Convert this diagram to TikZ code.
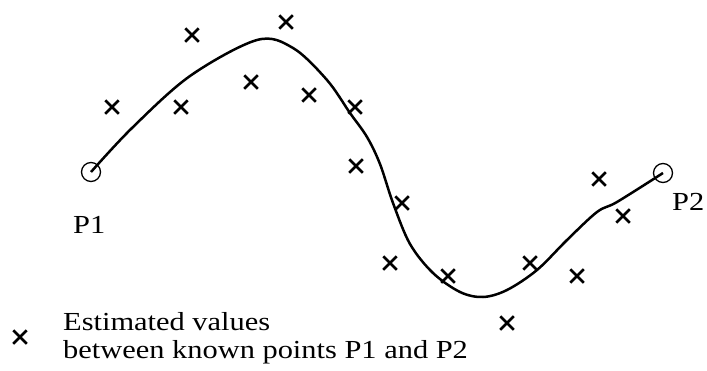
\documentclass[tikz,border=0pt]{standalone}
\usepackage{fontspec}
\setmainfont{Liberation Serif}
\usetikzlibrary{shapes.misc}
\newcommand{\widetext}[1]{\scalebox{1.17}[1]{#1}}
\begin{document}
\begin{tikzpicture}[x=1pt,y=-1pt,
  est/.style={cross out, draw, minimum size=11pt, inner sep=0pt, line width=2.5pt},
  known/.style={circle, draw, minimum size=19pt, inner sep=0pt, line width=1.3pt},
  lbl/.style={font=\fontsize{26}{30}\selectfont, inner sep=0pt, anchor=base west},
  curve/.style={line width=2.5pt, line join=round}]
\useasboundingbox (0,0) rectangle (707,370);
\node[known] (p1) at (91,172) {};
\node[known] (p2) at (663,173) {};
\draw[curve] plot[smooth, tension=0.55] coordinates {
  (p1.center) (132,128) (190,76) (257,40) (293,48) (327,80) (350,113)
  (367,137) (380,164) (393,203) (410,244) (433,273) (460,292) (483,297)
  (507,290) (537,270) (567,240) (597,212) (617,202) (p2.center)};
\node[est] (e1) at (112,107) {};
\node[est] (e2) at (192,35) {};
\node[est] (e3) at (181,107) {};
\node[est] (e4) at (251,82) {};
\node[est] (e5) at (286,22) {};
\node[est] (e6) at (309,95) {};
\node[est] (e7) at (355,107) {};
\node[est] (e8) at (356,166) {};
\node[est] (e9) at (402,203) {};
\node[est] (e10) at (390,263) {};
\node[est] (e11) at (448,276) {};
\node[est] (e12) at (530,263) {};
\node[est] (e13) at (577,276) {};
\node[est] (e14) at (507,323) {};
\node[est] (e15) at (599,179) {};
\node[est] (e16) at (623,216) {};
\node[lbl] (l1) at (73,233) {\widetext{P1}};
\node[lbl] (l2) at (672,210) {\widetext{P2}};
\node[est] (leg) at (20,337) {};
\node[lbl] (t1) at (63,330) {\widetext{Estimated values}};
\node[lbl] (t2) at (63,358) {\widetext{between known points P1 and P2}};
\end{tikzpicture}
\end{document}
